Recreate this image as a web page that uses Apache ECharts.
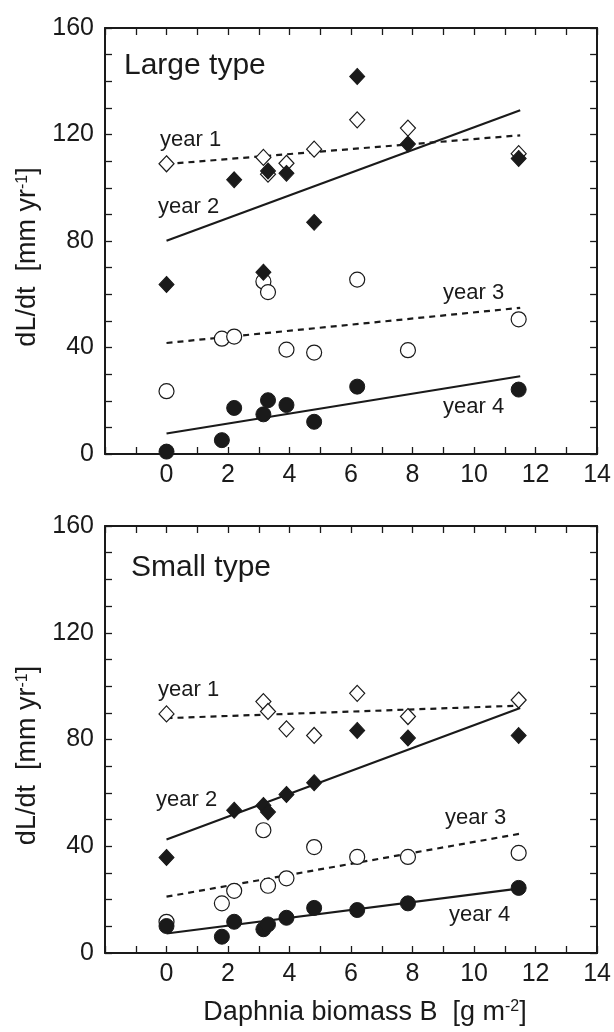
<!DOCTYPE html>
<html>
<head>
<meta charset="utf-8">
<script src="https://cdn.jsdelivr.net/npm/echarts@6/dist/echarts.min.js"></script>
<style>
  html, body { margin: 0; padding: 0; background: #fff; }
  #chart { width: 614px; height: 1032px; }
</style>
</head>
<body>
<div id="chart"></div>
<script>
// Daphnia biomass of the sites (g m-2)
var biomass = [0, 1.8, 2.2, 3.15, 3.3, 3.9, 4.8, 6.2, 7.85, 11.45];

// Large type, dL/dt (mm/yr), null = no point
var largeYear1 = [109, null, null, 111.4, 105.1, 109.2, 114.5, 125.5, 122.4, 112.8];
var largeYear2 = [63.7, null, 103, 68.3, 106.3, 105.4, 87, 141.8, 116.4, 111];
var largeYear3 = [23.6, 43.3, 44.1, 64.8, 60.8, 39.2, 38.1, 65.5, 39, 50.6];
var largeYear4 = [0.9, 5.2, 17.3, 14.9, 20.2, 18.4, 12.1, 25.3, null, 24.2];

// Small type
var smallYear1 = [89.6, null, null, 94.2, 90.5, 84, 81.5, 97.3, 88.6, 94.8];
var smallYear2 = [35.8, null, 53.5, 55.3, 52.8, 59.4, 63.8, 83.4, 80.6, 81.5];
var smallYear3 = [11.7, 18.6, 23.3, 46, 25.2, 28, 39.7, 36, 36, 37.5];
var smallYear4 = [10.1, 6.1, 11.7, 8.9, 10.7, 13.2, 16.9, 16.1, 18.6, 24.4];

// regression lines, value at start and end of fitX
var fitX = [0, 11.5];
var largeFit1 = [108.9, 119.7];
var largeFit2 = [80.1, 129.1];
var largeFit3 = [41.7, 54.9];
var largeFit4 = [7.7, 29.2];
var smallFit1 = [88, 92.7];
var smallFit2 = [42.5, 91.8];
var smallFit3 = [21.1, 44.7];
var smallFit4 = [7.3, 24.2];

var xTicks = [0, 2, 4, 6, 8, 10, 12, 14];
var yTicks = [0, 40, 80, 120, 160];

var ink = '#1a1a1a';
var font = 'Liberation Sans';

function pts(vals) {
  return biomass.map(function (x, i) { return [x, vals[i]]; })
    .filter(function (p) { return p[1] != null; });
}
function fit(vals) {
  return fitX.map(function (x, i) { return [x, vals[i]]; });
}

var nameRich = {
  t: { fontSize: 27, fontFamily: font, color: ink },
  s: { fontSize: 16, fontFamily: font, color: ink, verticalAlign: 'top' }
};

function xAxis(grid, pos, name) {
  return {
    type: 'value', gridIndex: grid, position: pos,
    min: -2, max: 14, interval: 2,
    name: name || '', nameLocation: 'middle', nameGap: 46,
    nameTextStyle: { color: ink, fontFamily: font, fontSize: 27, padding: [0, 0, 0, 28], rich: nameRich },
    axisLine: { show: true, onZero: false, lineStyle: { color: ink, width: 2 } },
    axisTick: { show: true, inside: true, length: 7, lineStyle: { color: ink, width: 1.3 } },
    minorTick: { show: true, splitNumber: 2, length: 7, lineStyle: { color: ink, width: 1.3 } },
    splitLine: { show: false },
    axisLabel: {
      show: pos === 'bottom', margin: 9, color: ink, fontFamily: font, fontSize: 25,
      formatter: function (v) { return xTicks.indexOf(v) >= 0 ? String(v) : ''; }
    }
  };
}

function yAxis(grid, pos, name) {
  return {
    type: 'value', gridIndex: grid, position: pos,
    min: 0, max: 160, interval: 40,
    name: name || '', nameLocation: 'middle', nameGap: 55, nameRotate: 90,
    nameTextStyle: { color: ink, fontFamily: font, fontSize: 27, padding: [0, 32, 0, 0], rich: nameRich },
    axisLine: { show: true, onZero: false, lineStyle: { color: ink, width: 2 } },
    axisTick: { show: true, inside: true, length: 7, lineStyle: { color: ink, width: 1.3 } },
    minorTick: { show: true, splitNumber: 4, length: 7, lineStyle: { color: ink, width: 1.3 } },
    splitLine: { show: false },
    axisLabel: {
      show: pos === 'left', margin: 11, color: ink, fontFamily: font, fontSize: 25,
      formatter: function (v) { return yTicks.indexOf(v) >= 0 ? String(v) : ''; }
    }
  };
}

function openSym(sym, size, data, xi) {
  return {
    type: 'scatter', xAxisIndex: xi, yAxisIndex: xi, symbol: sym, symbolSize: size,
    data: data, z: 3,
    itemStyle: { color: '#fff', borderColor: ink, borderWidth: 1.2, opacity: 1 }
  };
}
function filledSym(sym, size, data, xi) {
  return {
    type: 'scatter', xAxisIndex: xi, yAxisIndex: xi, symbol: sym, symbolSize: size,
    data: data, z: 4,
    itemStyle: { color: ink, borderColor: ink, borderWidth: 1, opacity: 1 }
  };
}
function fitLine(data, xi, dashed) {
  return {
    type: 'line', xAxisIndex: xi, yAxisIndex: xi, data: data, showSymbol: false,
    silent: true, z: 2,
    lineStyle: { color: ink, width: 2.2, type: dashed ? [6, 5] : 'solid' }
  };
}

function label(text, x, y, size) {
  return {
    type: 'text', x: x, y: y, z: 10,
    style: { text: text, fill: ink, font: size + 'px "' + font + '"', verticalAlign: 'middle' }
  };
}

var yName = '{t|dL/dt  [mm yr}{s|-1}{t|]}';
var xName = '{t|Daphnia biomass B  [g m}{s|-2}{t|]}';

var chart = echarts.init(document.getElementById('chart'), null, { renderer: 'canvas' });

chart.setOption({
  backgroundColor: '#fff',
  animation: false,
  grid: [
    { left: 105, width: 494, top: 28, height: 426 },
    { left: 105, width: 494, top: 526, height: 427 }
  ],
  xAxis: [
    xAxis(0, 'bottom'), xAxis(0, 'top'),
    xAxis(1, 'bottom', xName), xAxis(1, 'top')
  ],
  yAxis: [
    yAxis(0, 'left', yName), yAxis(0, 'right'),
    yAxis(1, 'left', yName), yAxis(1, 'right')
  ],
  series: [
    // large type
    fitLine(fit(largeFit1), 0, true),
    fitLine(fit(largeFit2), 0, false),
    fitLine(fit(largeFit3), 0, true),
    fitLine(fit(largeFit4), 0, false),
    openSym('diamond', [15, 16], pts(largeYear1), 0),
    openSym('circle', 15, pts(largeYear3), 0),
    filledSym('diamond', [15, 16], pts(largeYear2), 0),
    filledSym('circle', 15, pts(largeYear4), 0),
    // small type
    fitLine(fit(smallFit1), 2, true),
    fitLine(fit(smallFit2), 2, false),
    fitLine(fit(smallFit3), 2, true),
    fitLine(fit(smallFit4), 2, false),
    openSym('diamond', [15, 16], pts(smallYear1), 2),
    openSym('circle', 15, pts(smallYear3), 2),
    filledSym('diamond', [15, 16], pts(smallYear2), 2),
    filledSym('circle', 15, pts(smallYear4), 2)
  ],
  graphic: [
    label('Large type', 124, 66, 30),
    label('year 1', 160, 140, 22),
    label('year 2', 158, 207, 22),
    label('year 3', 443, 293, 22),
    label('year 4', 443, 407, 22),
    label('Small type', 131, 568, 30),
    label('year 1', 158, 690, 22),
    label('year 2', 156, 800, 22),
    label('year 3', 445, 818, 22),
    label('year 4', 449, 915, 22)
  ]
});
</script>
</body>
</html>
